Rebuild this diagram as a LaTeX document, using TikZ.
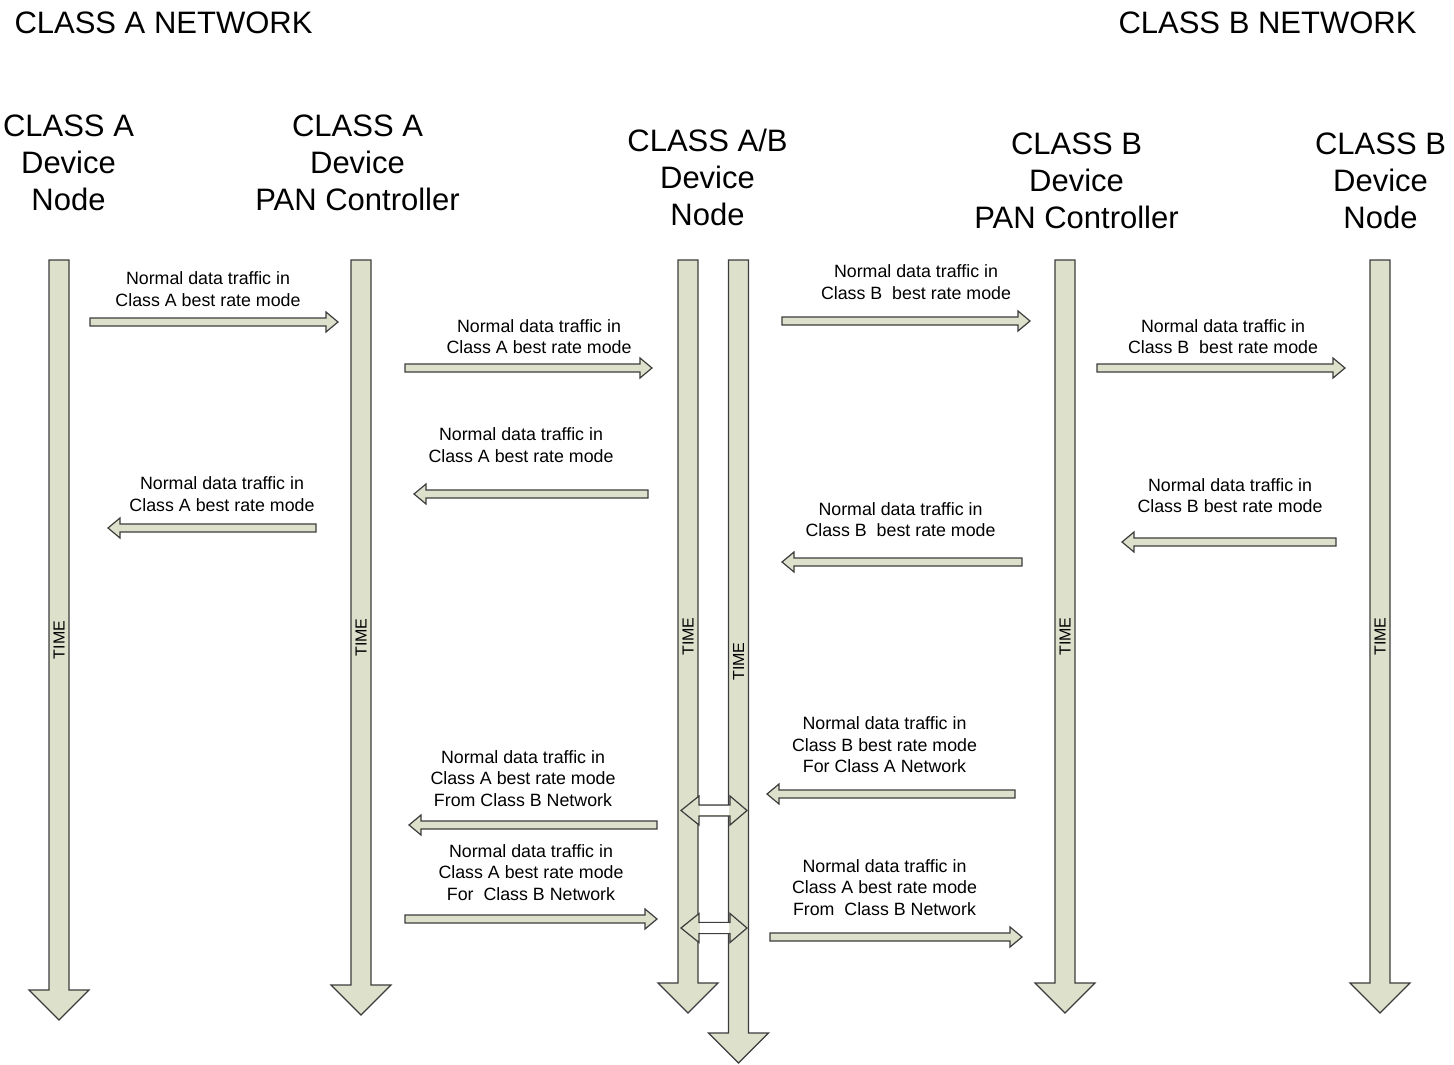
\documentclass[tikz,border=0pt]{standalone}
\usepackage{fontspec}
\setmainfont{Liberation Sans}
\definecolor{barfill}{RGB}{221,224,203}
\definecolor{barline}{RGB}{60,60,60}

% vertical time bar: name, x, top, tip
\newcommand{\timebar}[4]{%
  \draw[bar] (#2-10,#3) -- (#2+10,#3) -- (#2+10,#4-30) -- (#2+30,#4-30) -- (#2,#4)
    -- (#2-30,#4-30) -- (#2-10,#4-30) -- cycle;
  \node[timetext] (#1) at (#2,{(#3+#4)/2}) {TIME};}
% message arrow: tail x, tip x, y
\newcommand{\msgarrow}[3]{%
  \pgfmathsetmacro\hb{#2-12*sign(#2-#1)}
  \draw[bar] (#1,#3-4) -- (\hb,#3-4) -- (\hb,#3-10) -- (#2,#3) -- (\hb,#3+10)
    -- (\hb,#3+4) -- (#1,#3+4) -- cycle;}
% two-way link between the two A/B time bars: y
\newcommand{\linkarrow}[1]{%
  \draw[bar] (681,#1) -- (699,#1-14.5) -- (699,#1-5.5) -- (730,#1-5.5) -- (730,#1-14.5)
    -- (747,#1) -- (730,#1+14.5) -- (730,#1+5.5) -- (699,#1+5.5) -- (699,#1+14.5) -- cycle;
  \fill[white] (699.7,#1-4.8) rectangle (729.3,#1+4.8);}

\begin{document}
\begin{tikzpicture}[x=1pt,y=-1pt]
\tikzstyle{bar}=[draw=barline, fill=barfill, line width=1.2pt]
\tikzstyle{timetext}=[rotate=90, inner sep=0pt, font=\fontsize{16}{19}\selectfont]
\tikzstyle{msg}=[align=center, inner sep=0pt, font=\fontsize{17.8}{21.5}\selectfont]
\tikzstyle{head}=[align=center, inner sep=0pt, font=\fontsize{31}{37}\selectfont]
\useasboundingbox (0,0) rectangle (1454,1065);

    \node (anet) [head, anchor=base] at (163.5,34) {CLASS A NETWORK};
    \node (bnet) [head, anchor=base] at (1267.5,34) {CLASS B NETWORK};

    \node (anode) [head] at (68.5,163) {CLASS A\\Device\\Node};
    \node (apan) [head] at (357.5,163) {CLASS A\\Device\\PAN Controller};
    \node (abnode) [head] at (707.5,177.5) {CLASS A/B\\Device\\Node};
    \node (bpan) [head] at (1076.5,181) {CLASS B\\Device\\PAN Controller};
    \node (bnode) [head] at (1380.5,181) {CLASS B\\Device\\Node};

    \timebar{tanode}{59}{260}{1020}
    \timebar{tapan}{361}{260}{1015}
    \timebar{tabl}{688}{260}{1013}
    \timebar{tabr}{738.5}{260}{1063}
    \timebar{tbpan}{1065}{260}{1013}
    \timebar{tbnode}{1380}{260}{1013}

    \linkarrow{810.5}
    \linkarrow{928}

    % class A side
    \msgarrow{90}{338}{322}
    \node (msg1) [msg] at (208,289) {Normal data traffic in\\Class A best rate mode};
    \msgarrow{405}{652}{368}
    \node (msg2) [msg] at (539,336.5) {Normal data traffic in\\Class A best rate mode};
    \msgarrow{648}{414}{494}
    \node (msg3) [msg] at (521,445) {Normal data traffic in\\Class A best rate mode};
    \msgarrow{316}{108}{528}
    \node (msg4) [msg] at (222,494) {Normal data traffic in\\Class A best rate mode};
    \msgarrow{657}{409}{825}
    \node (msg10) [msg] at (523,778.5) {Normal data traffic in\\Class A best rate mode\\From Class B Network};
    \msgarrow{405}{657}{919}
    \node (msg11) [msg] at (531,872.5) {Normal data traffic in\\Class A best rate mode\\For\ \ Class B Network};

    % class B side
    \msgarrow{782}{1030}{321}
    \node (msg5) [msg] at (916,282) {Normal data traffic in\\Class B\ \ best rate mode};
    \msgarrow{1097}{1345}{368}
    \node (msg6) [msg] at (1223,336.5) {Normal data traffic in\\Class B\ \ best rate mode};
    \msgarrow{1022}{782}{562}
    \node (msg7) [msg] at (900.5,519.5) {Normal data traffic in\\Class B\ \ best rate mode};
    \msgarrow{1336}{1122}{542}
    \node (msg8) [msg] at (1230,495.5) {Normal data traffic in\\Class B best rate mode};
    \msgarrow{1015}{767}{794}
    \node (msg9) [msg] at (884.5,745) {Normal data traffic in\\Class B best rate mode\\For Class A Network};
    \msgarrow{770}{1022}{937}
    \node (msg12) [msg] at (884.5,887.5) {Normal data traffic in\\Class A best rate mode\\From\ \ Class B Network};
\end{tikzpicture}
\end{document}
